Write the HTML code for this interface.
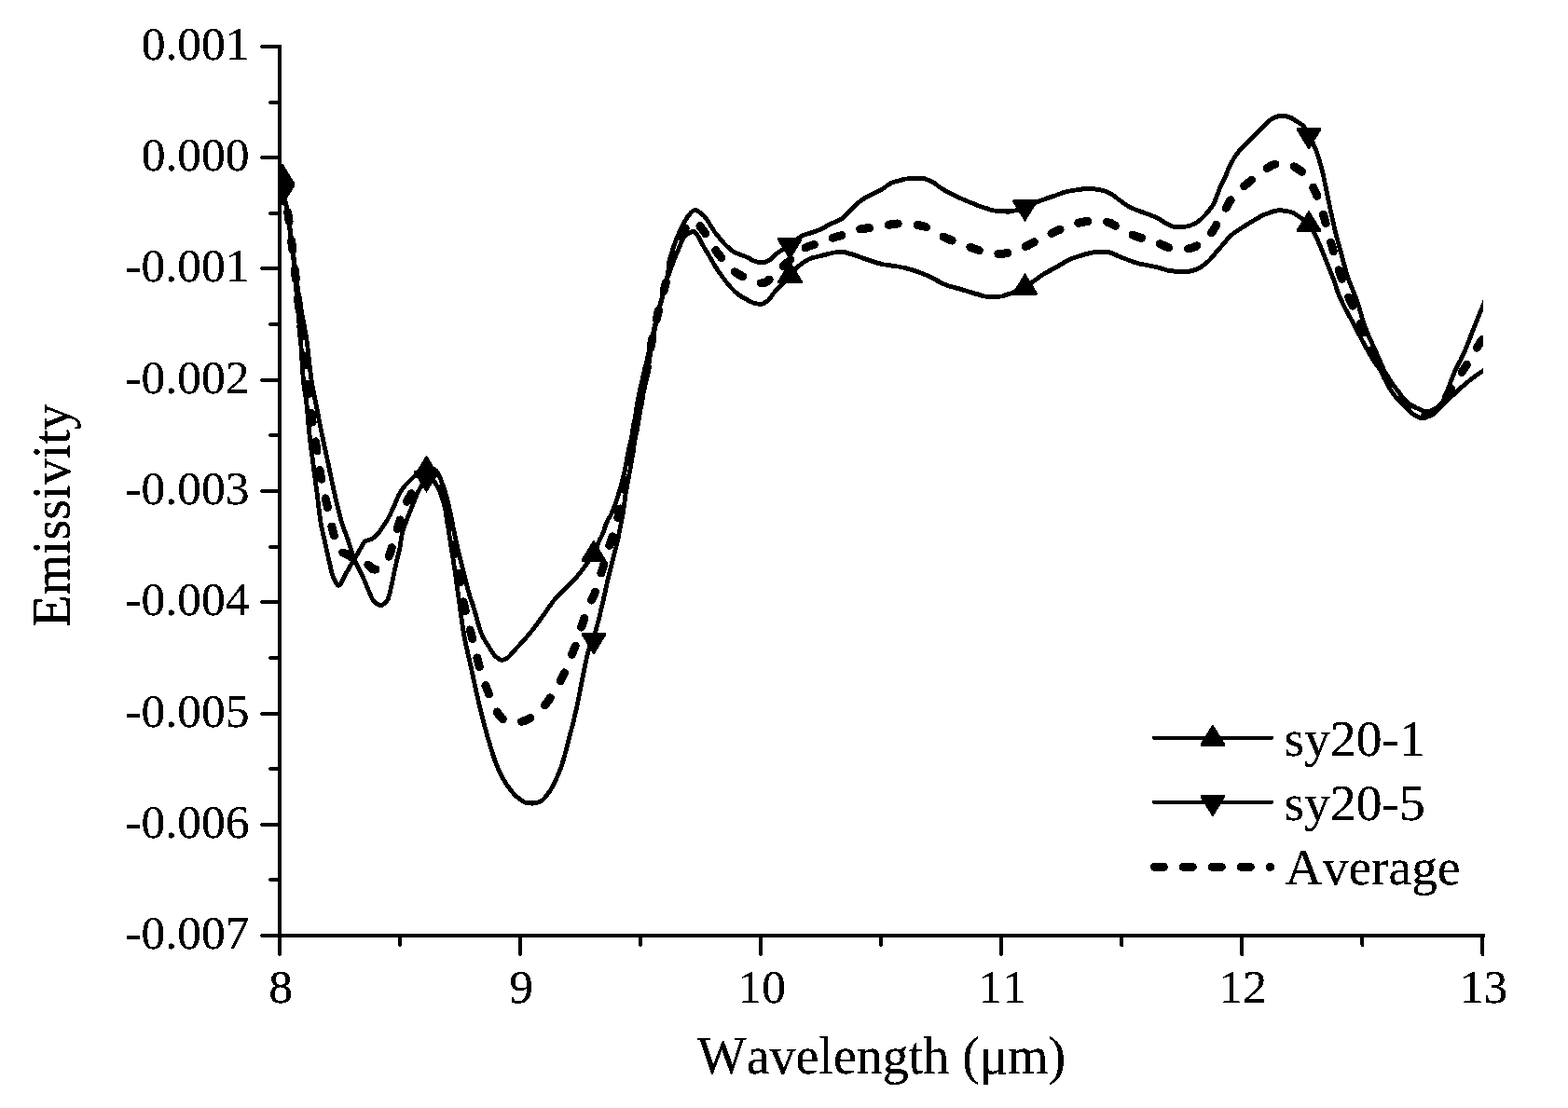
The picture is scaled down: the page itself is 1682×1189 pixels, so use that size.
<!DOCTYPE html>
<html lang="en">
<head>
<meta charset="utf-8">
<title>Emissivity vs Wavelength</title>
<style>
html,body{margin:0;padding:0;background:#fff;}
body{width:1682px;height:1189px;overflow:hidden;}
svg{display:block;}
text{font-family:"Liberation Serif","DejaVu Serif",serif;fill:#000;font-kerning:none;}
.tick{font-size:51.5px;}
.ttl{font-size:56px;}
.leg{font-size:55.5px;}
.ax{stroke:#000;stroke-width:4;fill:none;}
.tk{stroke:#000;stroke-width:4;fill:none;stroke-linecap:round;}
.sol{stroke:#000;stroke-width:4.8;fill:none;stroke-linejoin:round;stroke-linecap:round;}
.lsol{stroke:#000;stroke-width:4.3;fill:none;stroke-linecap:round;}
.dash{stroke:#000;stroke-width:9.0;fill:none;stroke-linejoin:round;stroke-linecap:round;stroke-dasharray:10 20.9;}
.avg{stroke-dasharray:10 21;stroke-dashoffset:-1.4;}
.mk{fill:#000;stroke:none;}
</style>
</head>
<body>
<svg width="1682" height="1189" viewBox="0 0 1682 1189">
<rect x="0" y="0" width="1682" height="1189" fill="#fff"/>
<defs>
<filter id="bw" filterUnits="userSpaceOnUse" x="0" y="0" width="1682" height="1189" color-interpolation-filters="sRGB">
<feComponentTransfer><feFuncA type="discrete" tableValues="0 1"/></feComponentTransfer>
</filter>
<filter id="bwt" filterUnits="userSpaceOnUse" x="0" y="0" width="1682" height="1189" color-interpolation-filters="sRGB">
<feComponentTransfer><feFuncA type="discrete" tableValues="0 1 1"/></feComponentTransfer>
</filter>
<clipPath id="plot"><rect x="300" y="0" width="1291.0" height="1004"/></clipPath>
</defs>
<g filter="url(#bw)">
<g clip-path="url(#plot)">
<path class="sol" d="M302,192 L303,198.7 L304,205 L305,210.9 L306,216 L307,220.5 L308,225.1 L309,230.6 L310,238.2 L311,246.7 L312,254.6 L313,262.2 L314,270.1 L315,279.3 L316,290.2 L317,302.1 L318,314.2 L319,325.6 L320,336.6 L321,347.6 L322,359.2 L323,372.3 L324,388.2 L325,403.1 L326,413.5 L327,420.5 L328,426.7 L329,434.5 L330,445.3 L331,456.8 L332,466.7 L333,475.2 L334,483.2 L335,490.8 L336,498.4 L337,506.1 L338,513.7 L339,521.2 L340,528.8 L341,536.9 L342,545.5 L343,553.7 L344,560.6 L345,566 L346,570.5 L347,574.8 L348,579.1 L349,583.7 L350,588.3 L351,592.9 L352,597.5 L353,601.8 L354,606.2 L355,610.7 L356,614.8 L357,617.9 L358,620.3 L359,622.7 L360,624.8 L361,626.5 L362,627.8 L363,628.4 L364,628.2 L365,627.1 L366,625.5 L367,623.5 L368,621.3 L369,619.2 L370,617.4 L371,615.7 L372,613.9 L373,612.1 L374,610.3 L375,608.5 L376,606.8 L377,605.2 L378,603.6 L379,602 L380,600.4 L381,598.7 L382,596.9 L383,595.1 L384,593.3 L385,591.6 L386,589.8 L387,588.2 L388,586.4 L389,584.5 L390,582.7 L391,581.4 L392,580.5 L393,580.1 L394,579.8 L395,579.6 L396,579.3 L397,579.1 L398,578.7 L399,578.2 L400,577.6 L401,576.9 L402,576.1 L403,575.3 L404,574.3 L405,573.2 L406,572 L407,570.6 L408,569.2 L409,567.7 L410,566.3 L411,564.8 L412,563.4 L413,561.9 L414,560.3 L415,558.7 L416,557 L417,555.1 L418,553.2 L419,551.1 L420,549 L421,546.9 L422,544.7 L423,542.5 L424,540.2 L425,537.7 L426,535.2 L427,532.9 L428,530.8 L429,529 L430,527.2 L431,525.6 L432,524.2 L433,522.9 L434,521.7 L435,520.6 L436,519.6 L437,518.5 L438,517.5 L439,516.5 L440,515.4 L441,514.4 L442,513.4 L443,512.4 L444,511.5 L445,510.6 L446,509.7 L447,508.9 L448,508 L449,507.3 L450,506.6 L451,506 L452,505.5 L453,505 L454,504.6 L455,504.2 L456,503.8 L457,503.5 L458,503.3 L459,503 L460,502.7 L461,502.6 L462,502.5 L463,502.6 L464,502.9 L465,503.3 L466,503.9 L467,504.5 L468,505.4 L469,506.7 L470,508.2 L471,510 L472,512.2 L473,514.9 L474,517.8 L475,520.6 L476,523.4 L477,526.4 L478,529.6 L479,533.1 L480,537 L481,541.1 L482,545.5 L483,550 L484,554.8 L485,560 L486,565.2 L487,570.3 L488,575 L489,579.6 L490,584.1 L491,588.4 L492,592.7 L493,596.9 L494,601.1 L495,605.2 L496,609.2 L497,613.3 L498,617.3 L499,621.3 L500,625.2 L501,629.1 L502,632.7 L503,636.3 L504,639.7 L505,642.8 L506,645.6 L507,648.5 L508,651.6 L509,655 L510,658.5 L511,662.2 L512,665.9 L513,669.5 L514,672.9 L515,676 L516,678.8 L517,681.1 L518,683.2 L519,685.1 L520,686.9 L521,688.6 L522,690.2 L523,691.8 L524,693.3 L525,694.9 L526,696.6 L527,698.2 L528,699.8 L529,701.2 L530,702.6 L531,703.8 L532,704.8 L533,705.6 L534,706.3 L535,707 L536,707.6 L537,708 L538,708.3 L539,708.3 L540,708 L541,707.6 L542,707.2 L543,706.7 L544,706.1 L545,705.3 L546,704.5 L547,703.5 L548,702.4 L549,701.3 L550,700.1 L551,699 L552,697.8 L553,696.6 L554,695.5 L555,694.5 L556,693.4 L557,692.4 L558,691.3 L559,690.2 L560,689.1 L561,688 L562,686.9 L563,685.8 L564,684.7 L565,683.5 L566,682.4 L567,681.2 L568,680 L569,678.8 L570,677.5 L571,676.2 L572,675 L573,673.6 L574,672.3 L575,671 L576,669.6 L577,668.2 L578,666.9 L579,665.5 L580,664.1 L581,662.7 L582,661.4 L583,660 L584,658.6 L585,657.2 L586,655.8 L587,654.3 L588,652.9 L589,651.4 L590,650 L591,648.6 L592,647.2 L593,645.8 L594,644.5 L595,643.2 L596,642 L597,640.8 L598,639.7 L599,638.7 L600,637.6 L601,636.7 L602,635.7 L603,634.7 L604,633.8 L605,632.8 L606,631.9 L607,630.9 L608,629.9 L609,628.9 L610,627.9 L611,626.9 L612,625.9 L613,624.9 L614,623.9 L615,622.9 L616,621.8 L617,620.8 L618,619.7 L619,618.6 L620,617.4 L621,616.2 L622,615 L623,613.7 L624,612.4 L625,611.1 L626,609.8 L627,608.4 L628,606.9 L629,605.5 L630,604 L631,602.6 L632,601.2 L633,600 L634,598.7 L635,597.3 L636,595.9 L637,594.2 L638,592.2 L639,589.8 L640,587.3 L641,584.7 L642,582.1 L643,579.9 L644,577.9 L645,576 L646,574.1 L647,571.7 L648,568.7 L649,565.4 L650,562.4 L651,560.1 L652,558.1 L653,556.4 L654,554.7 L655,553 L656,551.1 L657,548.8 L658,546.4 L659,543.7 L660,540.9 L661,537.9 L662,534.9 L663,531.7 L664,528.4 L665,525.1 L666,521.6 L667,518 L668,514.2 L669,510.2 L670,505.8 L671,500.9 L672,495.3 L673,489.5 L674,484.2 L675,479.6 L676,475.6 L677,471.6 L678,467 L679,461.5 L680,455.4 L681,449.3 L682,443.2 L683,437 L684,430.9 L685,425.4 L686,420.6 L687,416.3 L688,412.2 L689,408.1 L690,404 L691,399.7 L692,395.3 L693,391 L694,386.6 L695,382.2 L696,377.8 L697,373.4 L698,369 L699,364.6 L700,360.2 L701,355.8 L702,351.2 L703,346.6 L704,342.1 L705,337.8 L706,333.8 L707,330.1 L708,326.6 L709,323.1 L710,319.6 L711,315.9 L712,312.2 L713,308.6 L714,305 L715,301.6 L716,298.4 L717,295.4 L718,292.5 L719,289.7 L720,287 L721,284.3 L722,281.7 L723,279.1 L724,276.6 L725,274.2 L726,271.8 L727,269.4 L728,266.9 L729,264.4 L730,261.9 L731,259.6 L732,257.6 L733,255.8 L734,254.4 L735,253.2 L736,252.1 L737,251.1 L738,250.5 L739,250 L740,249.6 L741,249.2 L742,248.9 L743,248.7 L744,248.6 L745,248.9 L746,249.8 L747,250.9 L748,252.2 L749,253.6 L750,255.2 L751,257.2 L752,259.5 L753,261.5 L754,263.3 L755,265 L756,266.7 L757,268.4 L758,270 L759,271.6 L760,273.3 L761,275 L762,276.7 L763,278.5 L764,280.3 L765,282 L766,283.8 L767,285.4 L768,287 L769,288.6 L770,290.1 L771,291.6 L772,293 L773,294.4 L774,295.8 L775,297.2 L776,298.5 L777,299.8 L778,301.1 L779,302.4 L780,303.7 L781,305 L782,306.2 L783,307.4 L784,308.5 L785,309.6 L786,310.6 L787,311.6 L788,312.6 L789,313.5 L790,314.4 L791,315.2 L792,316 L793,316.7 L794,317.4 L795,318 L796,318.6 L797,319.2 L798,319.8 L799,320.3 L800,320.8 L801,321.4 L802,322 L803,322.5 L804,323.1 L805,323.6 L806,324.1 L807,324.5 L808,324.8 L809,325.1 L810,325.4 L811,325.7 L812,325.9 L813,326.1 L814,326.2 L815,326.3 L816,326.3 L817,326.1 L818,325.8 L819,325.5 L820,325 L821,324.5 L822,323.9 L823,323.3 L824,322.5 L825,321.3 L826,319.9 L827,318.5 L828,317 L829,315.7 L830,314.5 L831,313.3 L832,312.2 L833,311 L834,309.9 L835,308.9 L836,307.9 L837,306.9 L838,305.9 L839,304.9 L840,303.9 L841,302.8 L842,301.7 L843,300.5 L844,299.4 L845,298.2 L846,297.1 L847,295.9 L848,294.7 L849,293.5 L850,292.2 L851,291 L852,289.8 L853,288.7 L854,287.7 L855,286.8 L856,286 L857,285.2 L858,284.4 L859,283.7 L860,283 L861,282.3 L862,281.6 L863,280.9 L864,280.3 L865,279.7 L866,279.1 L867,278.5 L868,278.1 L869,277.7 L870,277.3 L871,276.9 L872,276.6 L873,276.3 L874,276 L875,275.8 L876,275.5 L877,275.3 L878,275 L879,274.8 L880,274.6 L881,274.4 L882,274.2 L883,273.9 L884,273.7 L885,273.4 L886,273.1 L887,272.8 L888,272.5 L889,272.3 L890,272 L891,271.8 L892,271.6 L893,271.4 L894,271.2 L895,271 L896,270.8 L897,270.6 L898,270.5 L899,270.4 L900,270.3 L901,270.2 L902,270.2 L903,270.2 L904,270.3 L905,270.5 L906,270.7 L907,270.9 L908,271.2 L909,271.5 L910,271.8 L911,272.1 L912,272.3 L913,272.6 L914,272.9 L915,273.2 L916,273.5 L917,273.8 L918,274.2 L919,274.5 L920,274.9 L921,275.2 L922,275.6 L923,276 L924,276.4 L925,276.8 L926,277.1 L927,277.5 L928,277.9 L929,278.2 L930,278.5 L931,278.9 L932,279.2 L933,279.5 L934,279.9 L935,280.2 L936,280.5 L937,280.8 L938,281.2 L939,281.5 L940,281.8 L941,282.1 L942,282.4 L943,282.7 L944,282.9 L945,283.2 L946,283.4 L947,283.6 L948,283.8 L949,284 L950,284.2 L951,284.3 L952,284.5 L953,284.6 L954,284.8 L955,284.9 L956,285 L957,285.1 L958,285.3 L959,285.4 L960,285.5 L961,285.7 L962,285.8 L963,286 L964,286.2 L965,286.4 L966,286.6 L967,286.8 L968,287 L969,287.2 L970,287.4 L971,287.7 L972,287.9 L973,288.2 L974,288.4 L975,288.7 L976,289 L977,289.2 L978,289.5 L979,289.8 L980,290.1 L981,290.4 L982,290.8 L983,291.1 L984,291.4 L985,291.8 L986,292.2 L987,292.6 L988,293 L989,293.4 L990,293.8 L991,294.2 L992,294.7 L993,295.1 L994,295.5 L995,296 L996,296.4 L997,296.9 L998,297.3 L999,297.8 L1000,298.3 L1001,298.8 L1002,299.3 L1003,299.9 L1004,300.4 L1005,301 L1006,301.5 L1007,302 L1008,302.6 L1009,303.1 L1010,303.6 L1011,304.1 L1012,304.6 L1013,305 L1014,305.4 L1015,305.8 L1016,306.1 L1017,306.5 L1018,306.8 L1019,307.1 L1020,307.4 L1021,307.7 L1022,308 L1023,308.3 L1024,308.5 L1025,308.8 L1026,309.1 L1027,309.4 L1028,309.6 L1029,309.9 L1030,310.2 L1031,310.5 L1032,310.8 L1033,311.1 L1034,311.4 L1035,311.7 L1036,312 L1037,312.3 L1038,312.6 L1039,313 L1040,313.3 L1041,313.6 L1042,313.9 L1043,314.2 L1044,314.5 L1045,314.8 L1046,315.1 L1047,315.4 L1048,315.6 L1049,315.9 L1050,316.2 L1051,316.5 L1052,316.9 L1053,317.2 L1054,317.4 L1055,317.7 L1056,317.9 L1057,318.1 L1058,318.2 L1059,318.2 L1060,318.3 L1061,318.3 L1062,318.4 L1063,318.4 L1064,318.4 L1065,318.4 L1066,318.5 L1067,318.5 L1068,318.5 L1069,318.5 L1070,318.5 L1071,318.5 L1072,318.4 L1073,318.2 L1074,318 L1075,317.8 L1076,317.5 L1077,317.2 L1078,316.9 L1079,316.6 L1080,316.3 L1081,315.9 L1082,315.6 L1083,315.3 L1084,315 L1085,314.6 L1086,314.2 L1087,313.8 L1088,313.4 L1089,313 L1090,312.5 L1091,312.1 L1092,311.6 L1093,311.1 L1094,310.6 L1095,310.1 L1096,309.6 L1097,309.1 L1098,308.5 L1099,308 L1100,307.5 L1101,306.9 L1102,306.3 L1103,305.6 L1104,305 L1105,304.3 L1106,303.7 L1107,303 L1108,302.3 L1109,301.6 L1110,300.9 L1111,300.2 L1112,299.4 L1113,298.7 L1114,297.9 L1115,297.2 L1116,296.5 L1117,295.8 L1118,295.1 L1119,294.5 L1120,293.9 L1121,293.3 L1122,292.7 L1123,292.1 L1124,291.6 L1125,291 L1126,290.5 L1127,290 L1128,289.4 L1129,288.9 L1130,288.4 L1131,287.8 L1132,287.3 L1133,286.7 L1134,286.1 L1135,285.6 L1136,285 L1137,284.4 L1138,283.8 L1139,283.2 L1140,282.6 L1141,282 L1142,281.4 L1143,280.8 L1144,280.3 L1145,279.8 L1146,279.2 L1147,278.7 L1148,278.3 L1149,277.8 L1150,277.4 L1151,277 L1152,276.7 L1153,276.3 L1154,276 L1155,275.6 L1156,275.3 L1157,275 L1158,274.7 L1159,274.4 L1160,274.1 L1161,273.8 L1162,273.5 L1163,273.2 L1164,272.9 L1165,272.6 L1166,272.3 L1167,272.1 L1168,271.8 L1169,271.6 L1170,271.4 L1171,271.2 L1172,271 L1173,270.9 L1174,270.8 L1175,270.6 L1176,270.5 L1177,270.4 L1178,270.4 L1179,270.3 L1180,270.3 L1181,270.3 L1182,270.3 L1183,270.3 L1184,270.3 L1185,270.4 L1186,270.4 L1187,270.4 L1188,270.5 L1189,270.6 L1190,270.8 L1191,271.1 L1192,271.4 L1193,271.7 L1194,272.1 L1195,272.6 L1196,273 L1197,273.5 L1198,274 L1199,274.5 L1200,274.9 L1201,275.4 L1202,275.8 L1203,276.3 L1204,276.6 L1205,277 L1206,277.4 L1207,277.7 L1208,278.1 L1209,278.5 L1210,278.9 L1211,279.3 L1212,279.6 L1213,280 L1214,280.4 L1215,280.7 L1216,281.1 L1217,281.4 L1218,281.7 L1219,282 L1220,282.3 L1221,282.6 L1222,282.8 L1223,283.1 L1224,283.3 L1225,283.5 L1226,283.7 L1227,283.9 L1228,284.1 L1229,284.3 L1230,284.5 L1231,284.7 L1232,284.9 L1233,285.1 L1234,285.3 L1235,285.5 L1236,285.7 L1237,285.9 L1238,286.1 L1239,286.3 L1240,286.5 L1241,286.7 L1242,287 L1243,287.2 L1244,287.5 L1245,287.8 L1246,288.1 L1247,288.4 L1248,288.7 L1249,289 L1250,289.3 L1251,289.6 L1252,289.8 L1253,290.1 L1254,290.3 L1255,290.5 L1256,290.7 L1257,290.8 L1258,290.9 L1259,291 L1260,291.1 L1261,291.2 L1262,291.3 L1263,291.4 L1264,291.4 L1265,291.5 L1266,291.6 L1267,291.6 L1268,291.6 L1269,291.7 L1270,291.7 L1271,291.7 L1272,291.7 L1273,291.6 L1274,291.5 L1275,291.4 L1276,291.2 L1277,290.9 L1278,290.7 L1279,290.4 L1280,290.1 L1281,289.8 L1282,289.5 L1283,289.2 L1284,288.8 L1285,288.4 L1286,287.9 L1287,287.3 L1288,286.7 L1289,286 L1290,285.3 L1291,284.6 L1292,283.8 L1293,283 L1294,282.2 L1295,281.4 L1296,280.5 L1297,279.5 L1298,278.5 L1299,277.4 L1300,276.2 L1301,275.1 L1302,273.9 L1303,272.7 L1304,271.4 L1305,270.2 L1306,269 L1307,267.9 L1308,266.7 L1309,265.6 L1310,264.5 L1311,263.3 L1312,262.1 L1313,260.9 L1314,259.8 L1315,258.6 L1316,257.4 L1317,256.3 L1318,255.3 L1319,254.2 L1320,253.3 L1321,252.3 L1322,251.5 L1323,250.7 L1324,249.9 L1325,249.2 L1326,248.5 L1327,247.9 L1328,247.2 L1329,246.6 L1330,245.9 L1331,245.3 L1332,244.6 L1333,243.9 L1334,243.3 L1335,242.6 L1336,242 L1337,241.4 L1338,240.7 L1339,240.1 L1340,239.5 L1341,238.9 L1342,238.3 L1343,237.7 L1344,237.1 L1345,236.5 L1346,235.9 L1347,235.4 L1348,234.8 L1349,234.2 L1350,233.6 L1351,233 L1352,232.5 L1353,231.9 L1354,231.4 L1355,230.9 L1356,230.4 L1357,230 L1358,229.6 L1359,229.3 L1360,228.9 L1361,228.5 L1362,228.2 L1363,227.8 L1364,227.5 L1365,227.2 L1366,226.9 L1367,226.6 L1368,226.3 L1369,226.1 L1370,226 L1371,225.9 L1372,225.8 L1373,225.8 L1374,225.8 L1375,225.9 L1376,226 L1377,226.1 L1378,226.2 L1379,226.3 L1380,226.5 L1381,226.6 L1382,226.8 L1383,227 L1384,227.2 L1385,227.5 L1386,227.9 L1387,228.4 L1388,228.9 L1389,229.5 L1390,230.2 L1391,230.9 L1392,231.5 L1393,232.2 L1394,232.9 L1395,233.5 L1396,234.2 L1397,234.8 L1398,235.5 L1399,236.2 L1400,236.9 L1401,237.7 L1402,238.5 L1403,239.5 L1404,240.5 L1405,241.7 L1406,243.2 L1407,244.8 L1408,246.6 L1409,248.5 L1410,250.4 L1411,252.4 L1412,254.4 L1413,256.6 L1414,258.9 L1415,261.3 L1416,263.6 L1417,266 L1418,268.4 L1419,270.9 L1420,273.4 L1421,275.9 L1422,278.5 L1423,281 L1424,283.5 L1425,286 L1426,288.4 L1427,290.9 L1428,293.3 L1429,295.8 L1430,298.4 L1431,301.1 L1432,304.1 L1433,307.3 L1434,310.4 L1435,313.4 L1436,315.9 L1437,318.3 L1438,320.6 L1439,322.8 L1440,325 L1441,327 L1442,329 L1443,331 L1444,332.9 L1445,334.7 L1446,336.6 L1447,338.4 L1448,340.2 L1449,342 L1450,343.8 L1451,345.7 L1452,347.5 L1453,349.4 L1454,351.3 L1455,353.3 L1456,355.2 L1457,357.2 L1458,359.1 L1459,361 L1460,363 L1461,364.9 L1462,366.8 L1463,368.7 L1464,370.5 L1465,372.4 L1466,374.2 L1467,376 L1468,377.7 L1469,379.5 L1470,381.1 L1471,382.8 L1472,384.3 L1473,385.8 L1474,387.3 L1475,388.8 L1476,390.3 L1477,391.8 L1478,393.2 L1479,394.7 L1480,396.3 L1481,397.8 L1482,399.5 L1483,401.2 L1484,403 L1485,405 L1486,407 L1487,409.1 L1488,411.2 L1489,413.2 L1490,415.2 L1491,417.1 L1492,418.8 L1493,420.4 L1494,421.8 L1495,423.1 L1496,424.4 L1497,425.6 L1498,426.7 L1499,427.8 L1500,428.9 L1501,429.9 L1502,430.9 L1503,431.9 L1504,433 L1505,434 L1506,435.1 L1507,436.2 L1508,437.3 L1509,438.4 L1510,439.4 L1511,440.4 L1512,441.4 L1513,442.3 L1514,443.1 L1515,443.8 L1516,444.4 L1517,445.1 L1518,445.7 L1519,446.3 L1520,446.9 L1521,447.4 L1522,447.9 L1523,448.3 L1524,448.6 L1525,448.8 L1526,448.8 L1527,448.7 L1528,448.5 L1529,448.2 L1530,447.8 L1531,447.4 L1532,446.9 L1533,446.5 L1534,446 L1535,445.4 L1536,444.8 L1537,444 L1538,443.3 L1539,442.5 L1540,441.6 L1541,440.8 L1542,439.9 L1543,439 L1544,438 L1545,437 L1546,436 L1547,434.9 L1548,433.8 L1549,432.8 L1550,431.8 L1551,430.8 L1552,429.9 L1553,428.9 L1554,428 L1555,427.1 L1556,426.2 L1557,425.3 L1558,424.5 L1559,423.6 L1560,422.7 L1561,421.8 L1562,420.9 L1563,420 L1564,419.1 L1565,418.1 L1566,417.2 L1567,416.3 L1568,415.4 L1569,414.5 L1570,413.6 L1571,412.8 L1572,411.9 L1573,411.1 L1574,410.2 L1575,409.4 L1576,408.6 L1577,407.8 L1578,407 L1579,406.2 L1580,405.5 L1581,404.7 L1582,404 L1583,403.3 L1584,402.6 L1585,401.9 L1586,401.2 L1587,400.6 L1588,399.9 L1589,399.2 L1590,398.6 L1591,397.9 L1592,397.3 L1593,396.6 L1594,396"/>
<path class="sol" d="M302,200 L303,204.6 L304,209 L305,213.3 L306,217.3 L307,220.8 L308,224.4 L309,228.9 L310,235.7 L311,244.8 L312,253.1 L313,260.7 L314,268 L315,275.4 L316,283 L317,290.7 L318,298.4 L319,306 L320,313.2 L321,320 L322,326.2 L323,331.8 L324,337.2 L325,342.4 L326,347.6 L327,353.1 L328,358.9 L329,365.4 L330,373 L331,381.7 L332,390.8 L333,399.6 L334,407.3 L335,413.6 L336,419 L337,423.9 L338,428.7 L339,433.7 L340,438.9 L341,444.1 L342,449.3 L343,454.5 L344,459.5 L345,464.5 L346,469.3 L347,474 L348,478.7 L349,483.3 L350,487.9 L351,492.5 L352,497.2 L353,501.9 L354,506.7 L355,511.6 L356,516.4 L357,521.2 L358,525.8 L359,530.3 L360,534.6 L361,538.9 L362,543.1 L363,547.3 L364,551.2 L365,555 L366,558.6 L367,561.9 L368,564.9 L369,567.7 L370,570.4 L371,573.1 L372,575.8 L373,578.5 L374,581.5 L375,584.7 L376,588.1 L377,591.4 L378,594.7 L379,597.7 L380,600.4 L381,602.8 L382,604.9 L383,606.9 L384,608.8 L385,610.7 L386,612.5 L387,614.4 L388,616.4 L389,618.6 L390,620.8 L391,623.2 L392,625.6 L393,628.1 L394,630.5 L395,632.8 L396,635.1 L397,637.6 L398,640 L399,642.1 L400,643.8 L401,644.9 L402,646 L403,646.9 L404,647.8 L405,648.5 L406,649 L407,649.4 L408,649.5 L409,649.4 L410,649.1 L411,648.6 L412,647.9 L413,647 L414,646 L415,644.9 L416,643.4 L417,640.5 L418,636.6 L419,632.6 L420,628.2 L421,623.3 L422,618.4 L423,613.7 L424,609 L425,604.5 L426,600.2 L427,596.3 L428,592.2 L429,587.4 L430,580.9 L431,574.5 L432,570.1 L433,566.8 L434,564 L435,561.3 L436,558.6 L437,556 L438,553.5 L439,551 L440,548.5 L441,546.1 L442,543.6 L443,541.1 L444,538.5 L445,535.8 L446,533.3 L447,531 L448,528.9 L449,526.9 L450,525 L451,523.3 L452,521.5 L453,519.8 L454,518.3 L455,517 L456,515.8 L457,514.6 L458,513.7 L459,513.2 L460,513 L461,512.8 L462,512.9 L463,513.6 L464,514.5 L465,515.6 L466,516.9 L467,518.4 L468,520 L469,521.8 L470,523.7 L471,525.8 L472,528.1 L473,530.6 L474,533.4 L475,536.6 L476,540.1 L477,544.1 L478,548.6 L479,553.9 L480,560.6 L481,567.9 L482,574.6 L483,581 L484,587.2 L485,593.3 L486,599.6 L487,606.1 L488,612.9 L489,620 L490,627.1 L491,634.3 L492,641.4 L493,648.7 L494,656.2 L495,663.5 L496,670.6 L497,677.1 L498,682.8 L499,687.9 L500,692.8 L501,697.3 L502,701.7 L503,706 L504,710.4 L505,715 L506,719.6 L507,724.3 L508,728.9 L509,733.6 L510,738.1 L511,742.7 L512,747.1 L513,751.5 L514,755.7 L515,759.8 L516,763.9 L517,768 L518,772 L519,775.9 L520,779.7 L521,783.4 L522,787.1 L523,790.6 L524,794.1 L525,797.4 L526,800.8 L527,804 L528,807.3 L529,810.4 L530,813.4 L531,816.4 L532,819.1 L533,821.7 L534,824.1 L535,826.4 L536,828.5 L537,830.6 L538,832.6 L539,834.5 L540,836.3 L541,838 L542,839.6 L543,841.2 L544,842.7 L545,844.1 L546,845.5 L547,846.8 L548,848.1 L549,849.3 L550,850.5 L551,851.6 L552,852.7 L553,853.7 L554,854.6 L555,855.4 L556,856.2 L557,857 L558,857.8 L559,858.6 L560,859.3 L561,859.9 L562,860.5 L563,860.9 L564,861.2 L565,861.4 L566,861.5 L567,861.7 L568,861.8 L569,861.9 L570,862 L571,862 L572,862 L573,861.9 L574,861.7 L575,861.5 L576,861.2 L577,860.9 L578,860.6 L579,860.2 L580,859.8 L581,859.2 L582,858.5 L583,857.5 L584,856.5 L585,855.3 L586,854.1 L587,852.8 L588,851.5 L589,850.1 L590,848.6 L591,846.9 L592,845.2 L593,843.3 L594,841.3 L595,839.3 L596,837.2 L597,835.1 L598,832.9 L599,830.6 L600,828.1 L601,825.5 L602,822.8 L603,819.9 L604,816.8 L605,813.3 L606,809.6 L607,805.8 L608,801.9 L609,797.9 L610,794 L611,790.2 L612,786.4 L613,782.5 L614,778.6 L615,774.6 L616,770.6 L617,766.4 L618,762 L619,757.5 L620,752.6 L621,747.5 L622,742.2 L623,737 L624,731.9 L625,727 L626,722.1 L627,717.2 L628,712.2 L629,707.5 L630,703.1 L631,699.2 L632,695.9 L633,693.3 L634,691 L635,688.8 L636,686.4 L637,683.5 L638,680.3 L639,677 L640,673.4 L641,669.6 L642,665.7 L643,661.6 L644,657.5 L645,653.3 L646,649 L647,644.7 L648,640.4 L649,635.9 L650,631.2 L651,626.6 L652,622.3 L653,618.2 L654,614.2 L655,610.2 L656,606.2 L657,602.2 L658,598.2 L659,594.2 L660,590.4 L661,586.5 L662,582.5 L663,578 L664,572.9 L665,567.7 L666,562.6 L667,557.6 L668,552.3 L669,546 L670,538.3 L671,530.8 L672,524.5 L673,519.1 L674,513.9 L675,508.7 L676,503.1 L677,497 L678,490.7 L679,484.5 L680,478.6 L681,472.8 L682,467.1 L683,461.7 L684,456.6 L685,451.4 L686,445.8 L687,439.7 L688,433.5 L689,427.6 L690,422.4 L691,417.9 L692,413.7 L693,409.3 L694,404.4 L695,398.2 L696,390.8 L697,383.3 L698,377 L699,371.2 L700,365.8 L701,360.6 L702,355.4 L703,350.4 L704,345.4 L705,340.7 L706,336.3 L707,332.2 L708,328.4 L709,324.8 L710,321.1 L711,317.1 L712,313.2 L713,309.1 L714,304.9 L715,300.5 L716,295.5 L717,290.1 L718,284.4 L719,278.9 L720,273.9 L721,269.9 L722,266.5 L723,263.5 L724,260.7 L725,258.1 L726,255.6 L727,253.3 L728,251 L729,248.9 L730,246.9 L731,244.9 L732,242.9 L733,240.8 L734,238.8 L735,236.8 L736,235 L737,233.4 L738,232 L739,230.8 L740,229.6 L741,228.4 L742,227.3 L743,226.5 L744,225.9 L745,225.5 L746,225.5 L747,225.8 L748,226.2 L749,226.8 L750,227.5 L751,228.2 L752,229 L753,229.8 L754,230.6 L755,231.6 L756,232.7 L757,233.9 L758,235.3 L759,236.7 L760,238.3 L761,239.9 L762,241.6 L763,243.2 L764,244.9 L765,246.5 L766,248 L767,249.5 L768,250.8 L769,252 L770,253.2 L771,254.4 L772,255.6 L773,256.8 L774,258 L775,259.2 L776,260.3 L777,261.4 L778,262.4 L779,263.5 L780,264.5 L781,265.4 L782,266.3 L783,267.2 L784,268 L785,268.8 L786,269.4 L787,270.1 L788,270.6 L789,271.1 L790,271.6 L791,272.1 L792,272.5 L793,272.9 L794,273.2 L795,273.6 L796,274 L797,274.3 L798,274.7 L799,275.1 L800,275.5 L801,275.9 L802,276.4 L803,276.9 L804,277.5 L805,278 L806,278.6 L807,279.1 L808,279.6 L809,280.1 L810,280.5 L811,280.9 L812,281.1 L813,281.3 L814,281.4 L815,281.4 L816,281.5 L817,281.6 L818,281.6 L819,281.6 L820,281.5 L821,281.3 L822,280.9 L823,280.4 L824,279.8 L825,279.2 L826,278.6 L827,277.8 L828,276.8 L829,275.7 L830,274.6 L831,273.8 L832,273 L833,272.2 L834,271.5 L835,270.9 L836,270.2 L837,269.5 L838,268.9 L839,268.2 L840,267.6 L841,267 L842,266.3 L843,265.7 L844,265.1 L845,264.5 L846,263.9 L847,263.2 L848,262.5 L849,261.8 L850,261 L851,260.1 L852,259.3 L853,258.5 L854,257.6 L855,256.8 L856,256 L857,255.2 L858,254.5 L859,253.9 L860,253.3 L861,252.8 L862,252.4 L863,252 L864,251.6 L865,251.3 L866,251 L867,250.7 L868,250.4 L869,250.1 L870,249.8 L871,249.5 L872,249.2 L873,248.8 L874,248.5 L875,248.1 L876,247.8 L877,247.4 L878,247 L879,246.6 L880,246.2 L881,245.7 L882,245.2 L883,244.7 L884,244.1 L885,243.6 L886,243 L887,242.4 L888,241.8 L889,241.3 L890,240.8 L891,240.3 L892,239.8 L893,239.4 L894,239 L895,238.6 L896,238.1 L897,237.7 L898,237.3 L899,236.9 L900,236.4 L901,235.9 L902,235.3 L903,234.7 L904,234 L905,233.2 L906,232.3 L907,231.3 L908,230.2 L909,229.1 L910,228 L911,226.9 L912,225.8 L913,224.8 L914,223.8 L915,222.9 L916,221.9 L917,220.9 L918,220 L919,219.1 L920,218.2 L921,217.3 L922,216.5 L923,215.7 L924,215 L925,214.3 L926,213.7 L927,213 L928,212.4 L929,211.9 L930,211.3 L931,210.8 L932,210.2 L933,209.7 L934,209.1 L935,208.6 L936,208.1 L937,207.6 L938,207.1 L939,206.6 L940,206.2 L941,205.7 L942,205.2 L943,204.7 L944,204.2 L945,203.6 L946,203.1 L947,202.4 L948,201.8 L949,201.1 L950,200.4 L951,199.6 L952,198.9 L953,198.2 L954,197.6 L955,197 L956,196.5 L957,196.1 L958,195.7 L959,195.3 L960,195 L961,194.7 L962,194.4 L963,194.1 L964,193.9 L965,193.6 L966,193.4 L967,193.2 L968,192.9 L969,192.7 L970,192.4 L971,192.2 L972,192 L973,191.8 L974,191.6 L975,191.5 L976,191.4 L977,191.4 L978,191.4 L979,191.4 L980,191.4 L981,191.4 L982,191.4 L983,191.4 L984,191.4 L985,191.4 L986,191.4 L987,191.4 L988,191.4 L989,191.4 L990,191.5 L991,191.6 L992,191.8 L993,192.1 L994,192.5 L995,192.9 L996,193.3 L997,193.7 L998,194.2 L999,194.7 L1000,195.2 L1001,195.8 L1002,196.4 L1003,197.2 L1004,197.9 L1005,198.7 L1006,199.5 L1007,200.2 L1008,200.8 L1009,201.5 L1010,202.1 L1011,202.7 L1012,203.4 L1013,204 L1014,204.6 L1015,205.1 L1016,205.7 L1017,206.2 L1018,206.8 L1019,207.3 L1020,207.8 L1021,208.3 L1022,208.8 L1023,209.3 L1024,209.8 L1025,210.3 L1026,210.7 L1027,211.2 L1028,211.7 L1029,212.1 L1030,212.6 L1031,213.1 L1032,213.5 L1033,213.9 L1034,214.4 L1035,214.8 L1036,215.2 L1037,215.7 L1038,216.1 L1039,216.5 L1040,216.9 L1041,217.3 L1042,217.7 L1043,218.1 L1044,218.5 L1045,219 L1046,219.4 L1047,219.8 L1048,220.2 L1049,220.6 L1050,220.9 L1051,221.3 L1052,221.7 L1053,222 L1054,222.4 L1055,222.7 L1056,223 L1057,223.3 L1058,223.6 L1059,223.9 L1060,224.2 L1061,224.6 L1062,224.9 L1063,225.1 L1064,225.4 L1065,225.7 L1066,225.9 L1067,226.1 L1068,226.3 L1069,226.4 L1070,226.5 L1071,226.6 L1072,226.6 L1073,226.7 L1074,226.8 L1075,226.8 L1076,226.9 L1077,226.9 L1078,226.9 L1079,227 L1080,227 L1081,227 L1082,227 L1083,227 L1084,226.9 L1085,226.7 L1086,226.6 L1087,226.4 L1088,226.2 L1089,226 L1090,225.7 L1091,225.5 L1092,225.2 L1093,224.9 L1094,224.5 L1095,224.1 L1096,223.7 L1097,223.2 L1098,222.8 L1099,222.4 L1100,222 L1101,221.6 L1102,221.2 L1103,220.8 L1104,220.4 L1105,219.9 L1106,219.5 L1107,219.1 L1108,218.7 L1109,218.2 L1110,217.8 L1111,217.4 L1112,217 L1113,216.6 L1114,216.2 L1115,215.8 L1116,215.4 L1117,215 L1118,214.7 L1119,214.3 L1120,213.9 L1121,213.6 L1122,213.2 L1123,212.9 L1124,212.5 L1125,212.2 L1126,211.8 L1127,211.5 L1128,211.2 L1129,210.8 L1130,210.5 L1131,210.1 L1132,209.8 L1133,209.5 L1134,209.1 L1135,208.7 L1136,208.4 L1137,208 L1138,207.7 L1139,207.3 L1140,206.9 L1141,206.6 L1142,206.3 L1143,206 L1144,205.7 L1145,205.5 L1146,205.3 L1147,205.1 L1148,204.9 L1149,204.7 L1150,204.5 L1151,204.4 L1152,204.2 L1153,204.1 L1154,203.9 L1155,203.8 L1156,203.6 L1157,203.4 L1158,203.3 L1159,203.2 L1160,203 L1161,203 L1162,202.9 L1163,202.9 L1164,202.8 L1165,202.8 L1166,202.8 L1167,202.7 L1168,202.7 L1169,202.7 L1170,202.7 L1171,202.7 L1172,202.8 L1173,202.8 L1174,202.9 L1175,203 L1176,203.1 L1177,203.2 L1178,203.4 L1179,203.5 L1180,203.7 L1181,203.9 L1182,204.1 L1183,204.4 L1184,204.7 L1185,205 L1186,205.4 L1187,205.8 L1188,206.3 L1189,206.7 L1190,207.2 L1191,207.7 L1192,208.3 L1193,208.9 L1194,209.6 L1195,210.3 L1196,211.1 L1197,211.8 L1198,212.6 L1199,213.4 L1200,214.1 L1201,214.8 L1202,215.5 L1203,216.3 L1204,217 L1205,217.8 L1206,218.5 L1207,219.2 L1208,219.9 L1209,220.6 L1210,221.2 L1211,221.7 L1212,222.2 L1213,222.7 L1214,223.2 L1215,223.6 L1216,224.1 L1217,224.5 L1218,224.9 L1219,225.3 L1220,225.7 L1221,226.1 L1222,226.5 L1223,226.8 L1224,227.2 L1225,227.5 L1226,227.9 L1227,228.2 L1228,228.6 L1229,228.9 L1230,229.3 L1231,229.6 L1232,230 L1233,230.4 L1234,230.8 L1235,231.1 L1236,231.5 L1237,231.9 L1238,232.3 L1239,232.7 L1240,233.2 L1241,233.6 L1242,234.2 L1243,234.8 L1244,235.4 L1245,236 L1246,236.7 L1247,237.3 L1248,238 L1249,238.6 L1250,239.2 L1251,239.7 L1252,240.2 L1253,240.8 L1254,241.3 L1255,241.8 L1256,242.3 L1257,242.7 L1258,243 L1259,243.1 L1260,243.2 L1261,243.3 L1262,243.4 L1263,243.5 L1264,243.6 L1265,243.6 L1266,243.6 L1267,243.6 L1268,243.5 L1269,243.4 L1270,243.3 L1271,243.1 L1272,243 L1273,242.8 L1274,242.5 L1275,242.3 L1276,242.1 L1277,241.8 L1278,241.5 L1279,241.1 L1280,240.7 L1281,240.2 L1282,239.7 L1283,239.1 L1284,238.6 L1285,237.9 L1286,237.2 L1287,236.4 L1288,235.5 L1289,234.6 L1290,233.6 L1291,232.6 L1292,231.6 L1293,230.5 L1294,229.3 L1295,228.1 L1296,226.9 L1297,225.7 L1298,224.4 L1299,223.2 L1300,221.8 L1301,220.3 L1302,218.5 L1303,216.3 L1304,213.7 L1305,211.1 L1306,208.5 L1307,205.7 L1308,203 L1309,200.5 L1310,198.4 L1311,196.5 L1312,194.7 L1313,192.8 L1314,190.8 L1315,188.4 L1316,185.7 L1317,183 L1318,180.6 L1319,178.4 L1320,176.4 L1321,174.4 L1322,172.6 L1323,170.9 L1324,169.2 L1325,167.7 L1326,166.3 L1327,164.9 L1328,163.6 L1329,162.4 L1330,161.2 L1331,160 L1332,158.9 L1333,157.9 L1334,156.9 L1335,155.9 L1336,154.9 L1337,154 L1338,153 L1339,152.1 L1340,151.1 L1341,150.1 L1342,149.1 L1343,148.1 L1344,147.1 L1345,146.1 L1346,145.1 L1347,144.1 L1348,143.1 L1349,142.1 L1350,141.1 L1351,140.1 L1352,139.1 L1353,138 L1354,137 L1355,135.9 L1356,134.9 L1357,133.9 L1358,132.9 L1359,132 L1360,131.1 L1361,130.3 L1362,129.4 L1363,128.6 L1364,127.8 L1365,127.1 L1366,126.6 L1367,126.1 L1368,125.8 L1369,125.4 L1370,125.1 L1371,124.8 L1372,124.5 L1373,124.4 L1374,124.2 L1375,124.2 L1376,124.2 L1377,124.3 L1378,124.5 L1379,124.7 L1380,124.9 L1381,125.2 L1382,125.4 L1383,125.7 L1384,126 L1385,126.5 L1386,127 L1387,127.6 L1388,128.3 L1389,129 L1390,129.6 L1391,130.3 L1392,130.9 L1393,131.5 L1394,132.1 L1395,132.8 L1396,133.5 L1397,134.3 L1398,135.2 L1399,136.3 L1400,137.8 L1401,139.4 L1402,141.2 L1403,143.1 L1404,145 L1405,146.9 L1406,148.8 L1407,150.8 L1408,152.8 L1409,155 L1410,157.3 L1411,159.7 L1412,162.2 L1413,164.9 L1414,168 L1415,171.2 L1416,174.7 L1417,178.3 L1418,182.1 L1419,186.1 L1420,190.5 L1421,195.2 L1422,200 L1423,205 L1424,210 L1425,214.9 L1426,219.6 L1427,224.2 L1428,228.9 L1429,233.5 L1430,238.1 L1431,242.5 L1432,246.8 L1433,250.8 L1434,254.7 L1435,258.5 L1436,262.2 L1437,265.9 L1438,269.5 L1439,273.2 L1440,277 L1441,280.8 L1442,284.5 L1443,288.2 L1444,291.7 L1445,295 L1446,298 L1447,300.8 L1448,303.4 L1449,306 L1450,308.4 L1451,310.9 L1452,313.3 L1453,315.8 L1454,318.4 L1455,321 L1456,323.9 L1457,327 L1458,330.3 L1459,333.7 L1460,337.2 L1461,340.6 L1462,344 L1463,347.1 L1464,350 L1465,352.7 L1466,355.2 L1467,357.7 L1468,360.1 L1469,362.4 L1470,364.6 L1471,366.8 L1472,369 L1473,371.1 L1474,373.3 L1475,375.4 L1476,377.6 L1477,379.9 L1478,382.1 L1479,384.5 L1480,386.8 L1481,389.2 L1482,391.5 L1483,393.8 L1484,396 L1485,398.1 L1486,400 L1487,401.7 L1488,403.4 L1489,405 L1490,406.6 L1491,408.1 L1492,409.5 L1493,410.9 L1494,412.3 L1495,413.6 L1496,414.9 L1497,416.3 L1498,417.6 L1499,418.9 L1500,420.2 L1501,421.5 L1502,422.9 L1503,424.3 L1504,425.7 L1505,427 L1506,428.3 L1507,429.5 L1508,430.5 L1509,431.4 L1510,432.2 L1511,432.9 L1512,433.6 L1513,434.3 L1514,434.9 L1515,435.4 L1516,436 L1517,436.5 L1518,437 L1519,437.5 L1520,437.9 L1521,438.4 L1522,438.8 L1523,439.3 L1524,439.7 L1525,440.2 L1526,440.7 L1527,441.1 L1528,441.5 L1529,441.8 L1530,441.9 L1531,442 L1532,441.9 L1533,441.8 L1534,441.5 L1535,441.2 L1536,440.9 L1537,440.5 L1538,440 L1539,439.3 L1540,438.4 L1541,437.5 L1542,436.5 L1543,435.5 L1544,434.6 L1545,433.7 L1546,432.7 L1547,431.5 L1548,430 L1549,428 L1550,425.7 L1551,423.2 L1552,420.7 L1553,418.2 L1554,415.6 L1555,412.9 L1556,410.2 L1557,407.5 L1558,404.9 L1559,402.4 L1560,400 L1561,397.8 L1562,395.8 L1563,393.7 L1564,391.8 L1565,389.9 L1566,387.9 L1567,386 L1568,383.9 L1569,381.8 L1570,379.6 L1571,377.3 L1572,374.9 L1573,372.5 L1574,370 L1575,367.4 L1576,364.9 L1577,362.3 L1578,359.7 L1579,357.1 L1580,354.5 L1581,352 L1582,349.5 L1583,347 L1584,344.5 L1585,342.1 L1586,339.6 L1587,337.1 L1588,334.7 L1589,332.2 L1590,329.8 L1591,327.3 L1592,324.9 L1593,322.4 L1594,320"/>
<path class="dash avg" d="M302,196 L303,201.6 L304,207 L305,212.1 L306,216.7 L307,220.7 L308,224.8 L309,229.8 L310,237 L311,245.8 L312,253.9 L313,261.4 L314,269.1 L315,277.3 L316,286.6 L317,296.4 L318,306.3 L319,315.8 L320,324.9 L321,333.8 L322,342.7 L323,352.1 L324,362.7 L325,372.7 L326,380.6 L327,386.8 L328,392.8 L329,400 L330,409.1 L331,419.3 L332,428.7 L333,437.4 L334,445.2 L335,452.2 L336,458.7 L337,465 L338,471.2 L339,477.4 L340,483.8 L341,490.5 L342,497.4 L343,504.1 L344,510.1 L345,515.2 L346,519.9 L347,524.4 L348,528.9 L349,533.5 L350,538.1 L351,542.7 L352,547.3 L353,551.9 L354,556.5 L355,561.1 L356,565.6 L357,569.5 L358,573.1 L359,576.5 L360,579.7 L361,582.7 L362,585.5 L363,587.8 L364,589.7 L365,591.1 L366,592 L367,592.7 L368,593.1 L369,593.5 L370,593.9 L371,594.4 L372,594.8 L373,595.3 L374,595.9 L375,596.6 L376,597.5 L377,598.3 L378,599.1 L379,599.9 L380,600.4 L381,600.7 L382,600.9 L383,601 L384,601.1 L385,601.1 L386,601.2 L387,601.3 L388,601.4 L389,601.5 L390,601.8 L391,602.3 L392,603.1 L393,604.1 L394,605.1 L395,606.2 L396,607.2 L397,608.3 L398,609.4 L399,610.2 L400,610.7 L401,610.9 L402,611 L403,611.1 L404,611 L405,610.8 L406,610.5 L407,610 L408,609.4 L409,608.6 L410,607.7 L411,606.7 L412,605.6 L413,604.4 L414,603.2 L415,601.8 L416,600.2 L417,597.8 L418,594.9 L419,591.8 L420,588.6 L421,585.1 L422,581.5 L423,578.1 L424,574.6 L425,571.1 L426,567.7 L427,564.6 L428,561.5 L429,558.2 L430,554.1 L431,550 L432,547.1 L433,544.8 L434,542.9 L435,541 L436,539.1 L437,537.3 L438,535.5 L439,533.7 L440,532 L441,530.2 L442,528.5 L443,526.8 L444,525 L445,523.2 L446,521.5 L447,519.9 L448,518.5 L449,517.1 L450,515.8 L451,514.6 L452,513.5 L453,512.4 L454,511.4 L455,510.6 L456,509.8 L457,509.1 L458,508.5 L459,508.1 L460,507.9 L461,507.7 L462,507.7 L463,508.1 L464,508.7 L465,509.4 L466,510.4 L467,511.5 L468,512.7 L469,514.2 L470,516 L471,517.9 L472,520.1 L473,522.7 L474,525.6 L475,528.6 L476,531.8 L477,535.3 L478,539.1 L479,543.5 L480,548.8 L481,554.5 L482,560.1 L483,565.5 L484,571 L485,576.7 L486,582.4 L487,588.2 L488,594 L489,599.8 L490,605.6 L491,611.4 L492,617.1 L493,622.8 L494,628.6 L495,634.4 L496,639.9 L497,645.2 L498,650 L499,654.6 L500,659 L501,663.2 L502,667.2 L503,671.2 L504,675.1 L505,678.9 L506,682.6 L507,686.4 L508,690.3 L509,694.3 L510,698.3 L511,702.4 L512,706.5 L513,710.5 L514,714.3 L515,717.9 L516,721.4 L517,724.5 L518,727.6 L519,730.5 L520,733.3 L521,736 L522,738.7 L523,741.2 L524,743.7 L525,746.2 L526,748.7 L527,751.1 L528,753.5 L529,755.8 L530,758 L531,760.1 L532,762 L533,763.7 L534,765.2 L535,766.7 L536,768.1 L537,769.3 L538,770.4 L539,771.4 L540,772.1 L541,772.8 L542,773.4 L543,773.9 L544,774.4 L545,774.7 L546,775 L547,775.1 L548,775.3 L549,775.3 L550,775.3 L551,775.3 L552,775.2 L553,775.2 L554,775 L555,774.9 L556,774.8 L557,774.7 L558,774.6 L559,774.4 L560,774.2 L561,774 L562,773.7 L563,773.4 L564,772.9 L565,772.5 L566,772 L567,771.4 L568,770.9 L569,770.3 L570,769.7 L571,769.1 L572,768.5 L573,767.8 L574,767 L575,766.2 L576,765.4 L577,764.6 L578,763.7 L579,762.9 L580,762 L581,761 L582,759.9 L583,758.8 L584,757.6 L585,756.3 L586,754.9 L587,753.6 L588,752.2 L589,750.8 L590,749.3 L591,747.7 L592,746.2 L593,744.5 L594,742.9 L595,741.2 L596,739.6 L597,738 L598,736.3 L599,734.6 L600,732.9 L601,731.1 L602,729.2 L603,727.3 L604,725.3 L605,723.1 L606,720.8 L607,718.3 L608,715.9 L609,713.4 L610,711 L611,708.5 L612,706.1 L613,703.7 L614,701.2 L615,698.7 L616,696.2 L617,693.6 L618,690.9 L619,688 L620,685 L621,681.8 L622,678.6 L623,675.4 L624,672.2 L625,669.1 L626,666 L627,662.8 L628,659.6 L629,656.5 L630,653.5 L631,650.9 L632,648.6 L633,646.6 L634,644.8 L635,643.1 L636,641.1 L637,638.9 L638,636.3 L639,633.4 L640,630.3 L641,627.1 L642,623.9 L643,620.8 L644,617.7 L645,614.7 L646,611.5 L647,608.2 L648,604.5 L649,600.7 L650,596.8 L651,593.3 L652,590.2 L653,587.3 L654,584.5 L655,581.6 L656,578.6 L657,575.5 L658,572.3 L659,569 L660,565.6 L661,562.2 L662,558.7 L663,554.8 L664,550.7 L665,546.4 L666,542.1 L667,537.8 L668,533.3 L669,528.1 L670,522.1 L671,515.8 L672,509.9 L673,504.3 L674,499 L675,494.2 L676,489.3 L677,484.3 L678,478.8 L679,473 L680,467 L681,461 L682,455.2 L683,449.3 L684,443.7 L685,438.4 L686,433.2 L687,428 L688,422.8 L689,417.8 L690,413.2 L691,408.8 L692,404.5 L693,400.1 L694,395.5 L695,390.2 L696,384.3 L697,378.4 L698,373 L699,367.9 L700,363 L701,358.2 L702,353.3 L703,348.5 L704,343.8 L705,339.3 L706,335 L707,331.2 L708,327.5 L709,324 L710,320.3 L711,316.5 L712,312.7 L713,308.8 L714,304.9 L715,301 L716,297 L717,292.7 L718,288.4 L719,284.3 L720,280.4 L721,277.1 L722,274.1 L723,271.3 L724,268.7 L725,266.1 L726,263.7 L727,261.3 L728,259 L729,256.7 L730,254.4 L731,252.3 L732,250.2 L733,248.3 L734,246.6 L735,245 L736,243.5 L737,242.3 L738,241.2 L739,240.4 L740,239.6 L741,238.8 L742,238.1 L743,237.6 L744,237.2 L745,237.2 L746,237.6 L747,238.3 L748,239.2 L749,240.2 L750,241.3 L751,242.7 L752,244.2 L753,245.6 L754,247 L755,248.3 L756,249.7 L757,251.1 L758,252.6 L759,254.2 L760,255.8 L761,257.5 L762,259.2 L763,260.9 L764,262.6 L765,264.3 L766,265.9 L767,267.5 L768,268.9 L769,270.3 L770,271.7 L771,273 L772,274.3 L773,275.6 L774,276.9 L775,278.2 L776,279.4 L777,280.6 L778,281.8 L779,282.9 L780,284.1 L781,285.2 L782,286.3 L783,287.3 L784,288.3 L785,289.2 L786,290 L787,290.8 L788,291.6 L789,292.3 L790,293 L791,293.6 L792,294.2 L793,294.8 L794,295.3 L795,295.8 L796,296.3 L797,296.8 L798,297.2 L799,297.7 L800,298.2 L801,298.6 L802,299.2 L803,299.7 L804,300.3 L805,300.8 L806,301.3 L807,301.8 L808,302.2 L809,302.6 L810,303 L811,303.3 L812,303.5 L813,303.7 L814,303.8 L815,303.9 L816,303.9 L817,303.8 L818,303.7 L819,303.5 L820,303.3 L821,302.9 L822,302.4 L823,301.9 L824,301.2 L825,300.3 L826,299.3 L827,298.1 L828,296.9 L829,295.7 L830,294.6 L831,293.5 L832,292.6 L833,291.6 L834,290.7 L835,289.9 L836,289 L837,288.2 L838,287.4 L839,286.6 L840,285.7 L841,284.9 L842,284 L843,283.1 L844,282.3 L845,281.4 L846,280.5 L847,279.5 L848,278.6 L849,277.6 L850,276.6 L851,275.6 L852,274.5 L853,273.6 L854,272.7 L855,271.8 L856,271 L857,270.2 L858,269.5 L859,268.8 L860,268.1 L861,267.5 L862,267 L863,266.5 L864,266 L865,265.5 L866,265 L867,264.6 L868,264.2 L869,263.9 L870,263.6 L871,263.2 L872,262.9 L873,262.6 L874,262.3 L875,261.9 L876,261.6 L877,261.3 L878,261 L879,260.7 L880,260.4 L881,260.1 L882,259.7 L883,259.3 L884,258.9 L885,258.5 L886,258 L887,257.6 L888,257.2 L889,256.8 L890,256.4 L891,256 L892,255.7 L893,255.4 L894,255.1 L895,254.8 L896,254.5 L897,254.2 L898,253.9 L899,253.6 L900,253.3 L901,253.1 L902,252.8 L903,252.5 L904,252.2 L905,251.9 L906,251.5 L907,251.1 L908,250.7 L909,250.3 L910,249.9 L911,249.5 L912,249.1 L913,248.7 L914,248.4 L915,248 L916,247.7 L917,247.4 L918,247.1 L919,246.8 L920,246.5 L921,246.3 L922,246 L923,245.8 L924,245.7 L925,245.5 L926,245.4 L927,245.3 L928,245.1 L929,245 L930,244.9 L931,244.8 L932,244.7 L933,244.6 L934,244.5 L935,244.4 L936,244.3 L937,244.2 L938,244.1 L939,244.1 L940,244 L941,243.9 L942,243.8 L943,243.7 L944,243.6 L945,243.4 L946,243.2 L947,243 L948,242.8 L949,242.5 L950,242.3 L951,242 L952,241.7 L953,241.4 L954,241.2 L955,241 L956,240.8 L957,240.6 L958,240.5 L959,240.4 L960,240.3 L961,240.2 L962,240.1 L963,240.1 L964,240 L965,240 L966,240 L967,240 L968,240 L969,239.9 L970,239.9 L971,239.9 L972,240 L973,240 L974,240 L975,240.1 L976,240.2 L977,240.3 L978,240.5 L979,240.6 L980,240.8 L981,240.9 L982,241.1 L983,241.2 L984,241.4 L985,241.6 L986,241.8 L987,242 L988,242.2 L989,242.4 L990,242.6 L991,242.9 L992,243.2 L993,243.6 L994,244 L995,244.4 L996,244.9 L997,245.3 L998,245.8 L999,246.2 L1000,246.7 L1001,247.3 L1002,247.9 L1003,248.5 L1004,249.2 L1005,249.8 L1006,250.5 L1007,251.1 L1008,251.7 L1009,252.3 L1010,252.9 L1011,253.4 L1012,254 L1013,254.5 L1014,255 L1015,255.5 L1016,255.9 L1017,256.4 L1018,256.8 L1019,257.2 L1020,257.6 L1021,258 L1022,258.4 L1023,258.8 L1024,259.2 L1025,259.5 L1026,259.9 L1027,260.3 L1028,260.7 L1029,261 L1030,261.4 L1031,261.8 L1032,262.1 L1033,262.5 L1034,262.9 L1035,263.3 L1036,263.6 L1037,264 L1038,264.4 L1039,264.7 L1040,265.1 L1041,265.4 L1042,265.8 L1043,266.2 L1044,266.5 L1045,266.9 L1046,267.2 L1047,267.6 L1048,267.9 L1049,268.2 L1050,268.6 L1051,268.9 L1052,269.3 L1053,269.6 L1054,269.9 L1055,270.2 L1056,270.5 L1057,270.7 L1058,270.9 L1059,271.1 L1060,271.3 L1061,271.4 L1062,271.6 L1063,271.8 L1064,271.9 L1065,272.1 L1066,272.2 L1067,272.3 L1068,272.4 L1069,272.5 L1070,272.5 L1071,272.5 L1072,272.5 L1073,272.5 L1074,272.4 L1075,272.3 L1076,272.2 L1077,272.1 L1078,271.9 L1079,271.8 L1080,271.6 L1081,271.5 L1082,271.3 L1083,271.1 L1084,270.9 L1085,270.7 L1086,270.4 L1087,270.1 L1088,269.8 L1089,269.5 L1090,269.1 L1091,268.8 L1092,268.4 L1093,268 L1094,267.5 L1095,267.1 L1096,266.6 L1097,266.1 L1098,265.7 L1099,265.2 L1100,264.7 L1101,264.2 L1102,263.7 L1103,263.2 L1104,262.7 L1105,262.1 L1106,261.6 L1107,261 L1108,260.5 L1109,259.9 L1110,259.4 L1111,258.8 L1112,258.2 L1113,257.6 L1114,257.1 L1115,256.5 L1116,255.9 L1117,255.4 L1118,254.9 L1119,254.4 L1120,253.9 L1121,253.4 L1122,253 L1123,252.5 L1124,252.1 L1125,251.6 L1126,251.2 L1127,250.7 L1128,250.3 L1129,249.9 L1130,249.4 L1131,249 L1132,248.5 L1133,248.1 L1134,247.6 L1135,247.1 L1136,246.7 L1137,246.2 L1138,245.7 L1139,245.2 L1140,244.8 L1141,244.3 L1142,243.9 L1143,243.4 L1144,243 L1145,242.6 L1146,242.3 L1147,241.9 L1148,241.6 L1149,241.3 L1150,241 L1151,240.7 L1152,240.4 L1153,240.2 L1154,239.9 L1155,239.7 L1156,239.5 L1157,239.2 L1158,239 L1159,238.8 L1160,238.6 L1161,238.4 L1162,238.2 L1163,238 L1164,237.9 L1165,237.7 L1166,237.5 L1167,237.4 L1168,237.3 L1169,237.1 L1170,237 L1171,236.9 L1172,236.9 L1173,236.8 L1174,236.8 L1175,236.8 L1176,236.8 L1177,236.8 L1178,236.9 L1179,236.9 L1180,237 L1181,237.1 L1182,237.2 L1183,237.3 L1184,237.5 L1185,237.7 L1186,237.9 L1187,238.1 L1188,238.4 L1189,238.7 L1190,239 L1191,239.4 L1192,239.8 L1193,240.3 L1194,240.9 L1195,241.4 L1196,242.1 L1197,242.7 L1198,243.3 L1199,243.9 L1200,244.5 L1201,245.1 L1202,245.7 L1203,246.3 L1204,246.8 L1205,247.4 L1206,247.9 L1207,248.5 L1208,249 L1209,249.5 L1210,250 L1211,250.5 L1212,250.9 L1213,251.4 L1214,251.8 L1215,252.2 L1216,252.6 L1217,252.9 L1218,253.3 L1219,253.7 L1220,254 L1221,254.3 L1222,254.7 L1223,255 L1224,255.2 L1225,255.5 L1226,255.8 L1227,256.1 L1228,256.4 L1229,256.6 L1230,256.9 L1231,257.2 L1232,257.5 L1233,257.7 L1234,258 L1235,258.3 L1236,258.6 L1237,258.9 L1238,259.2 L1239,259.5 L1240,259.8 L1241,260.2 L1242,260.6 L1243,261 L1244,261.4 L1245,261.9 L1246,262.4 L1247,262.9 L1248,263.3 L1249,263.8 L1250,264.2 L1251,264.6 L1252,265 L1253,265.4 L1254,265.8 L1255,266.2 L1256,266.5 L1257,266.8 L1258,266.9 L1259,267.1 L1260,267.2 L1261,267.3 L1262,267.4 L1263,267.4 L1264,267.5 L1265,267.5 L1266,267.6 L1267,267.6 L1268,267.6 L1269,267.5 L1270,267.5 L1271,267.4 L1272,267.3 L1273,267.2 L1274,267 L1275,266.8 L1276,266.6 L1277,266.4 L1278,266.1 L1279,265.8 L1280,265.4 L1281,265 L1282,264.6 L1283,264.2 L1284,263.7 L1285,263.2 L1286,262.5 L1287,261.8 L1288,261.1 L1289,260.3 L1290,259.4 L1291,258.6 L1292,257.7 L1293,256.7 L1294,255.8 L1295,254.7 L1296,253.7 L1297,252.6 L1298,251.4 L1299,250.3 L1300,249 L1301,247.7 L1302,246.2 L1303,244.5 L1304,242.6 L1305,240.7 L1306,238.7 L1307,236.8 L1308,234.8 L1309,233.1 L1310,231.5 L1311,229.9 L1312,228.4 L1313,226.9 L1314,225.3 L1315,223.5 L1316,221.6 L1317,219.7 L1318,217.9 L1319,216.3 L1320,214.8 L1321,213.4 L1322,212 L1323,210.8 L1324,209.6 L1325,208.5 L1326,207.4 L1327,206.4 L1328,205.4 L1329,204.5 L1330,203.5 L1331,202.6 L1332,201.8 L1333,200.9 L1334,200.1 L1335,199.3 L1336,198.5 L1337,197.7 L1338,196.9 L1339,196.1 L1340,195.3 L1341,194.5 L1342,193.7 L1343,192.9 L1344,192.1 L1345,191.3 L1346,190.5 L1347,189.7 L1348,188.9 L1349,188.1 L1350,187.4 L1351,186.6 L1352,185.8 L1353,185 L1354,184.2 L1355,183.4 L1356,182.7 L1357,181.9 L1358,181.3 L1359,180.6 L1360,180 L1361,179.4 L1362,178.8 L1363,178.2 L1364,177.7 L1365,177.1 L1366,176.7 L1367,176.4 L1368,176.1 L1369,175.8 L1370,175.5 L1371,175.3 L1372,175.2 L1373,175.1 L1374,175 L1375,175 L1376,175.1 L1377,175.2 L1378,175.3 L1379,175.5 L1380,175.7 L1381,175.9 L1382,176.1 L1383,176.4 L1384,176.6 L1385,177 L1386,177.5 L1387,178 L1388,178.6 L1389,179.2 L1390,179.9 L1391,180.6 L1392,181.2 L1393,181.9 L1394,182.5 L1395,183.2 L1396,183.8 L1397,184.6 L1398,185.3 L1399,186.3 L1400,187.3 L1401,188.6 L1402,189.9 L1403,191.3 L1404,192.8 L1405,194.3 L1406,196 L1407,197.8 L1408,199.7 L1409,201.7 L1410,203.8 L1411,206 L1412,208.3 L1413,210.8 L1414,213.4 L1415,216.2 L1416,219.2 L1417,222.2 L1418,225.3 L1419,228.5 L1420,231.9 L1421,235.6 L1422,239.3 L1423,243 L1424,246.8 L1425,250.4 L1426,254 L1427,257.5 L1428,261.1 L1429,264.7 L1430,268.2 L1431,271.8 L1432,275.4 L1433,279.1 L1434,282.6 L1435,285.9 L1436,289.1 L1437,292.1 L1438,295.1 L1439,298 L1440,301 L1441,303.9 L1442,306.8 L1443,309.6 L1444,312.3 L1445,314.9 L1446,317.3 L1447,319.6 L1448,321.8 L1449,324 L1450,326.1 L1451,328.3 L1452,330.4 L1453,332.6 L1454,334.9 L1455,337.2 L1456,339.6 L1457,342.1 L1458,344.7 L1459,347.4 L1460,350.1 L1461,352.7 L1462,355.4 L1463,357.9 L1464,360.3 L1465,362.5 L1466,364.7 L1467,366.8 L1468,368.9 L1469,370.9 L1470,372.9 L1471,374.8 L1472,376.7 L1473,378.5 L1474,380.3 L1475,382.1 L1476,384 L1477,385.8 L1478,387.7 L1479,389.6 L1480,391.5 L1481,393.5 L1482,395.5 L1483,397.5 L1484,399.5 L1485,401.5 L1486,403.5 L1487,405.4 L1488,407.3 L1489,409.1 L1490,410.9 L1491,412.6 L1492,414.2 L1493,415.7 L1494,417 L1495,418.4 L1496,419.7 L1497,420.9 L1498,422.1 L1499,423.3 L1500,424.5 L1501,425.7 L1502,426.9 L1503,428.1 L1504,429.3 L1505,430.5 L1506,431.7 L1507,432.8 L1508,433.9 L1509,434.9 L1510,435.8 L1511,436.7 L1512,437.5 L1513,438.3 L1514,439 L1515,439.6 L1516,440.2 L1517,440.8 L1518,441.3 L1519,441.9 L1520,442.4 L1521,442.9 L1522,443.4 L1523,443.8 L1524,444.2 L1525,444.5 L1526,444.7 L1527,444.9 L1528,445 L1529,445 L1530,444.9 L1531,444.7 L1532,444.4 L1533,444.1 L1534,443.8 L1535,443.3 L1536,442.8 L1537,442.3 L1538,441.6 L1539,440.9 L1540,440 L1541,439.1 L1542,438.2 L1543,437.3 L1544,436.3 L1545,435.3 L1546,434.3 L1547,433.2 L1548,431.9 L1549,430.4 L1550,428.7 L1551,427 L1552,425.3 L1553,423.6 L1554,421.8 L1555,420 L1556,418.2 L1557,416.4 L1558,414.7 L1559,413 L1560,411.4 L1561,409.8 L1562,408.3 L1563,406.9 L1564,405.4 L1565,404 L1566,402.6 L1567,401.1 L1568,399.7 L1569,398.2 L1570,396.6 L1571,395 L1572,393.4 L1573,391.8 L1574,390.1 L1575,388.4 L1576,386.7 L1577,385 L1578,383.4 L1579,381.7 L1580,380 L1581,378.4 L1582,376.7 L1583,375.2 L1584,373.6 L1585,372 L1586,370.4 L1587,368.9 L1588,367.3 L1589,365.7 L1590,364.2 L1591,362.6 L1592,361.1 L1593,359.5 L1594,358"/>
<path class="mk" d="M303,175 L316.1,196.4 L316.1,198.9 L289.9,198.9 L289.9,196.4 Z"/>
<path class="mk" d="M457.5,488.2 L470.6,509.6 L470.6,512.1 L444.4,512.1 L444.4,509.6 Z"/>
<path class="mk" d="M636.8,579 L649.9,600.4 L649.9,602.9 L623.7,602.9 L623.7,600.4 Z"/>
<path class="mk" d="M847.5,280.1 L860.6,301.5 L860.6,304 L834.4,304 L834.4,301.5 Z"/>
<path class="mk" d="M1099.5,292.8 L1112.6,314.2 L1112.6,316.7 L1086.4,316.7 L1086.4,314.2 Z"/>
<path class="mk" d="M1404,225.2 L1417.1,246.6 L1417.1,249.1 L1390.9,249.1 L1390.9,246.6 Z"/>
<path class="mk" d="M303,221.1 L316.1,199.7 L316.1,197.1 L289.9,197.1 L289.9,199.7 Z"/>
<path class="mk" d="M457.5,528.9 L470.6,507.5 L470.6,504.9 L444.4,504.9 L444.4,507.5 Z"/>
<path class="mk" d="M637,703 L650.1,681.6 L650.1,679 L623.9,679 L623.9,681.6 Z"/>
<path class="mk" d="M847.3,279.1 L860.4,257.7 L860.4,255.1 L834.2,255.1 L834.2,257.7 Z"/>
<path class="mk" d="M1099.5,238.3 L1112.6,216.9 L1112.6,214.3 L1086.4,214.3 L1086.4,216.9 Z"/>
<path class="mk" d="M1404,161.1 L1417.1,139.7 L1417.1,137.1 L1390.9,137.1 L1390.9,139.7 Z"/>
</g>
<path class="ax" d="M300,48 V1006"/>
<path class="ax" d="M298,1004 H1592.5"/>
<path class="tk" d="M300,50 H281"/>
<path class="tk" d="M300,110 H290"/>
<path class="tk" d="M300,169 H281"/>
<path class="tk" d="M300,229 H290"/>
<path class="tk" d="M300,288 H281"/>
<path class="tk" d="M300,348 H290"/>
<path class="tk" d="M300,408 H281"/>
<path class="tk" d="M300,467 H290"/>
<path class="tk" d="M300,527 H281"/>
<path class="tk" d="M300,587 H290"/>
<path class="tk" d="M300,646 H281"/>
<path class="tk" d="M300,706 H290"/>
<path class="tk" d="M300,766 H281"/>
<path class="tk" d="M300,825 H290"/>
<path class="tk" d="M300,885 H281"/>
<path class="tk" d="M300,944 H290"/>
<path class="tk" d="M300,1004 H281"/>
<path class="tk" d="M300.0,1004 V1024"/>
<path class="tk" d="M429.0,1004 V1014"/>
<path class="tk" d="M558.1,1004 V1024"/>
<path class="tk" d="M687.1,1004 V1014"/>
<path class="tk" d="M816.2,1004 V1024"/>
<path class="tk" d="M945.2,1004 V1014"/>
<path class="tk" d="M1074.2,1004 V1024"/>
<path class="tk" d="M1203.3,1004 V1014"/>
<path class="tk" d="M1332.3,1004 V1024"/>
<path class="tk" d="M1461.4,1004 V1014"/>
<path class="tk" d="M1590.4,1004 V1024"/>
<path class="lsol" d="M1238,792 H1364"/>
<path class="mk" d="M1300.9,776.9 L1314,798.3 L1314,800.8 L1287.8,800.8 L1287.8,798.3 Z"/>
<path class="lsol" d="M1238,861 H1364"/>
<path class="mk" d="M1300.9,877 L1314,855.6 L1314,853 L1287.8,853 L1287.8,855.6 Z"/>
<path class="dash" d="M1238.5,930.4 H1362.7"/>
</g>
<g filter="url(#bwt)">
<text class="tick" x="267.5" y="63.7" text-anchor="end">0.001</text>
<text class="tick" x="267.5" y="182.7" text-anchor="end">0.000</text>
<text class="tick" x="267.5" y="301.7" text-anchor="end">-0.001</text>
<text class="tick" x="267.5" y="421.7" text-anchor="end">-0.002</text>
<text class="tick" x="267.5" y="540.7" text-anchor="end">-0.003</text>
<text class="tick" x="267.5" y="659.7" text-anchor="end">-0.004</text>
<text class="tick" x="267.5" y="779.7" text-anchor="end">-0.005</text>
<text class="tick" x="267.5" y="898.7" text-anchor="end">-0.006</text>
<text class="tick" x="267.5" y="1017.7" text-anchor="end">-0.007</text>
<text class="tick" x="301.0" y="1076.4" text-anchor="middle">8</text>
<text class="tick" x="559.1" y="1076.4" text-anchor="middle">9</text>
<text class="tick" x="817.2" y="1076.4" text-anchor="middle">10</text>
<text class="tick" x="1075.2" y="1076.4" text-anchor="middle">11</text>
<text class="tick" x="1333.3" y="1076.4" text-anchor="middle">12</text>
<text class="tick" x="1591.4" y="1076.4" text-anchor="middle">13</text>
<text class="ttl" x="945.5" y="1152.3" text-anchor="middle">Wavelength (μm)</text>
<text class="ttl" transform="translate(74.4,553) rotate(-90)" text-anchor="middle">Emissivity</text>
<text class="leg" x="1377.6" y="811.2">sy20-1</text>
<text class="leg" x="1377.6" y="880.3">sy20-5</text>
<text class="leg" x="1378.6" y="948.5">Average</text>
</g>
</svg>
</body>
</html>
